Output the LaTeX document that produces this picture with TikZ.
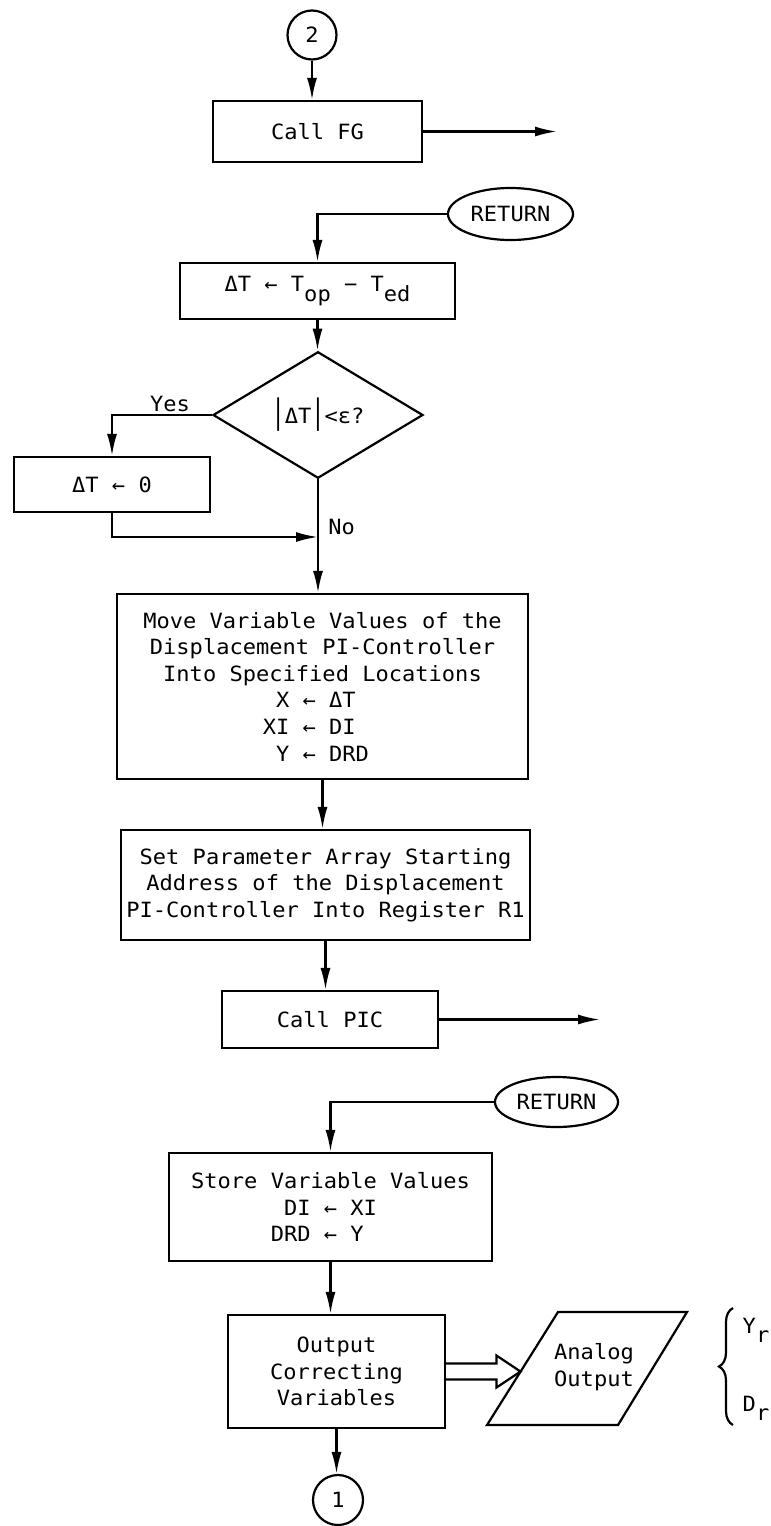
\documentclass[tikz,border=0pt]{standalone}
\usepackage{fontspec}
\setmainfont[FakeStretch=1.05]{DejaVu Sans Mono}
\usetikzlibrary{shapes.geometric, arrows.meta, calc, decorations.pathreplacing}

\begin{document}
\begin{tikzpicture}[x=0.5pt, y=-0.5pt, font=\fontsize{10.5}{13.3}\selectfont,
    box/.style={draw, line width=1.1pt, align=center, inner sep=0pt},
    term/.style={draw, ellipse, line width=1.1pt, inner sep=0pt},
    conn/.style={draw, circle, line width=1.1pt, inner sep=0pt},
    flow/.style={line width=1.1pt, -{Latex[length=11pt, width=5pt]}},
    dbl/.style={line width=1.1pt, line join=miter},
    lbl/.style={inner sep=1pt}]

\useasboundingbox (0,0) rectangle (771,1526);

% --- upper part: call FG and the dead band on the error -------------------
\node[conn, minimum size=24.5pt] (c2) at (312,35) {2};
\node[box, minimum width=104.5pt, minimum height=30.5pt] (fg) at (317.5,131.5) {Call FG};
\coordinate (fgout) at (557,131.5);
\node[term, minimum width=62.5pt, minimum height=26pt] (ret1) at (510.5,214) {RETURN};
\node[box, minimum width=137.5pt, minimum height=28pt] (dT) at (317.5,291)
  {ΔT ← T\raisebox{-.8ex}{op} − T\raisebox{-.8ex}{ed}};
\node[box, diamond, minimum width=105pt, minimum height=45pt] (dec) at (318,415)
  {\scalebox{1}[1.6]{|}ΔT\scalebox{1}[1.6]{|}<ε?};
\node[box, minimum width=98pt, minimum height=27.5pt] (zero) at (112,484.5) {ΔT ← 0};
\coordinate (join) at (318,537);
\node[lbl, anchor=south] (yes) at (170,414) {Yes};
\node[lbl, anchor=west] (no) at (326,527) {No};

% --- PI controller ----------------------------------------------------------
\node[box, minimum width=205.5pt, minimum height=92.5pt] (move) at (322.5,686.5)
  {Move Variable Values of the\\Displacement PI-Controller\\Into Specified Locations\\
   \hphantom{0}X ← ΔT\hphantom{00}\\XI ← DI\hphantom{00}\\\hphantom{0}Y ← DRD\hphantom{0}};
\node[box, minimum width=204.5pt, minimum height=55pt] (set) at (325.5,885)
  {Set Parameter Array Starting\\Address of the Displacement\\PI-Controller Into Register R1};
\node[box, minimum width=108pt, minimum height=28.5pt] (pic) at (330,1019.5) {Call PIC};
\coordinate (picout) at (600,1019.5);
\node[term, minimum width=61.5pt, minimum height=25pt] (ret2) at (556.5,1102) {RETURN};
\node[box, minimum width=161.5pt, minimum height=54pt] (store) at (330.5,1207)
  {Store Variable Values\\DI ← XI\\DRD ← Y\hphantom{00}};
\node[box, minimum width=108.5pt, minimum height=56.5pt] (out) at (336.5,1371.5)
  {Output\\Correcting\\Variables};
\node[conn, minimum size=25pt] (c1) at (338,1500) {1};

% --- analog output ----------------------------------------------------------
\coordinate (pTL) at (558,1312);
\coordinate (pTR) at (687,1312);
\coordinate (pBR) at (618,1425);
\coordinate (pBL) at (487,1425);
\coordinate (anain) at (520.5,1371.5);
\draw[line width=1.1pt] (pTL) -- (pTR) -- (pBR) -- (pBL) -- cycle;
\node[lbl, align=center] (ana) at (594,1367) {Analog\\Output};
\draw[line width=1.1pt, decorate, decoration={brace, amplitude=7pt}] (733,1425) -- (733,1308);
\node[lbl] (yr) at (756,1330) {Y\raisebox{-.8ex}{r}};
\node[lbl] (dr) at (756,1408) {D\raisebox{-.8ex}{r}};

% --- connectors -------------------------------------------------------------
\foreach \a/\b in {c2/fg, dT/dec, dec/move, move/set, set/pic, store/out, out/c1}
  \draw[flow] (\a.south) -- (\a.south |- \b.north);
\draw[flow] (fg.east) -- (fgout);
\draw[flow] (ret1.west) -| (dT.north);
\draw[flow] (dec.west) -| (zero.north);
\draw[flow] (zero.south) |- (join);
\draw[flow] (pic.east) -- (picout);
\draw[flow] (ret2.west) -| (store.north);
% double arrow into the output, drawn as one outline
\draw[dbl] ($(out.east)+(0,-8)$) -- ($(anain)+(-24,-8)$) -- ($(anain)+(-24,-16)$)
  -- (anain) -- ($(anain)+(-24,16)$) -- ($(anain)+(-24,8)$) -- ($(out.east)+(0,8)$);
\end{tikzpicture}
\end{document}
